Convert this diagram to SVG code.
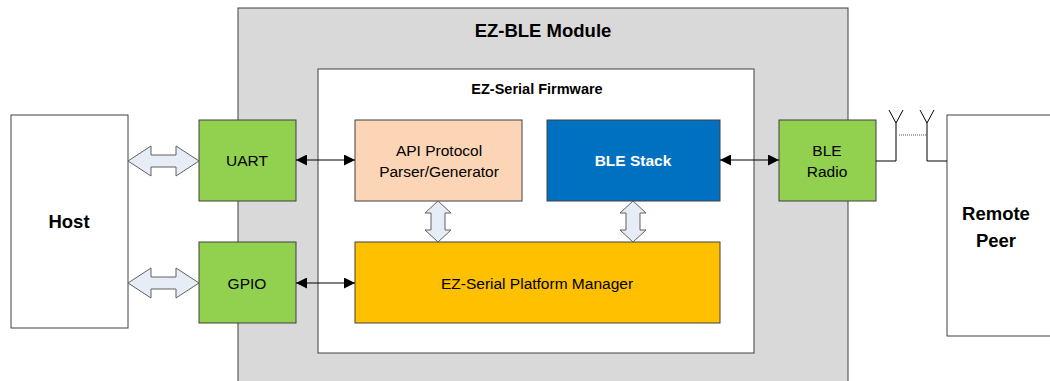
<svg xmlns="http://www.w3.org/2000/svg" width="1050" height="381" viewBox="0 0 1050 381">
<defs>
<marker id="ah" viewBox="0 0 10 10" refX="10" refY="5" markerWidth="11" markerHeight="11" markerUnits="userSpaceOnUse" orient="auto-start-reverse">
<path d="M0,0 L10,5 L0,10 z" fill="#000"/>
</marker>
<style>
text{font-family:"Liberation Sans",Arial,sans-serif;fill:#000;text-anchor:middle}
.box{stroke:#404040;stroke-width:1}
.t14{font-size:15.5px}
.b{font-weight:bold}
.blk{fill:#e6edf7;stroke:#606060;stroke-width:1}
.ln{stroke:#000;stroke-width:1;fill:none}
</style>
</defs>
<rect width="1050" height="381" fill="#fff"/>
<g id="module">
<rect class="box" x="238" y="8" width="610" height="380" fill="#d9d9d9"/>
<text x="543" y="37" font-size="18.5" class="b">EZ-BLE Module</text>
</g>
<g id="firmware">
<rect class="box" x="318" y="69" width="436" height="284" fill="#fff"/>
<text x="537" y="94" font-size="14.5" class="b">EZ-Serial Firmware</text>
</g>
<g id="host">
<rect class="box" x="11" y="115" width="117" height="213" fill="#fff"/>
<text x="69" y="228" font-size="18.5" class="b">Host</text>
</g>
<g id="remote">
<rect class="box" x="947" y="115" width="110" height="221" fill="#fff"/>
<text x="996" y="220" font-size="18.5" class="b">Remote</text>
<text x="996" y="247" font-size="18.5" class="b">Peer</text>
</g>
<g id="uart">
<rect class="box" x="199" y="120" width="97" height="81" fill="#92d050"/>
<text x="247" y="166" class="t14">UART</text>
</g>
<g id="gpio">
<rect class="box" x="199" y="242" width="97" height="81" fill="#92d050"/>
<text x="247" y="289" class="t14">GPIO</text>
</g>
<g id="api">
<rect class="box" x="355" y="120" width="167" height="81" fill="#fbd5b5"/>
<text x="439" y="156" class="t14">API Protocol</text>
<text x="439" y="177" class="t14">Parser/Generator</text>
</g>
<g id="blestack">
<rect class="box" x="547" y="120" width="173" height="81" fill="#0070c0"/>
<text x="633" y="166" class="t14 b" style="fill:#fff">BLE Stack</text>
</g>
<g id="radio">
<rect class="box" x="779" y="120" width="97" height="81" fill="#92d050"/>
<text x="827" y="156" class="t14">BLE</text>
<text x="827" y="177" class="t14">Radio</text>
</g>
<g id="platform">
<rect class="box" x="355" y="242" width="365" height="81" fill="#ffc000"/>
<text x="537" y="289" class="t14">EZ-Serial Platform Manager</text>
</g>
<g id="connectors">
<path class="blk" d="M128,161 L151,146 L151,155 L176,155 L176,146 L199,161 L176,176 L176,167 L151,167 L151,176 Z"/>
<path class="blk" d="M128,283 L151,268 L151,277 L176,277 L176,268 L199,283 L176,298 L176,289 L151,289 L151,298 Z"/>
<path class="blk" d="M438,201 L451,213 L445,213 L445,230 L451,230 L438,242 L425,230 L431,230 L431,213 L425,213 Z"/>
<path class="blk" d="M633,201 L646,213 L640,213 L640,230 L646,230 L633,242 L620,230 L626,230 L626,213 L620,213 Z"/>
<line class="ln" x1="296" y1="160" x2="355" y2="160" marker-start="url(#ah)" marker-end="url(#ah)"/>
<line class="ln" x1="296" y1="283" x2="355" y2="283" marker-start="url(#ah)" marker-end="url(#ah)"/>
<line class="ln" x1="720" y1="160" x2="779" y2="160" marker-start="url(#ah)" marker-end="url(#ah)"/>
<path class="ln" d="M876,161 H896 V123 M889,110 L896,123 L903,110"/>
<path class="ln" d="M947,161 H927 V123 M920,110 L927,123 L934,110"/>
<line x1="899" y1="135" x2="926" y2="135" stroke="#555" stroke-width="1" stroke-dasharray="1,1"/>
</g>
</svg>
